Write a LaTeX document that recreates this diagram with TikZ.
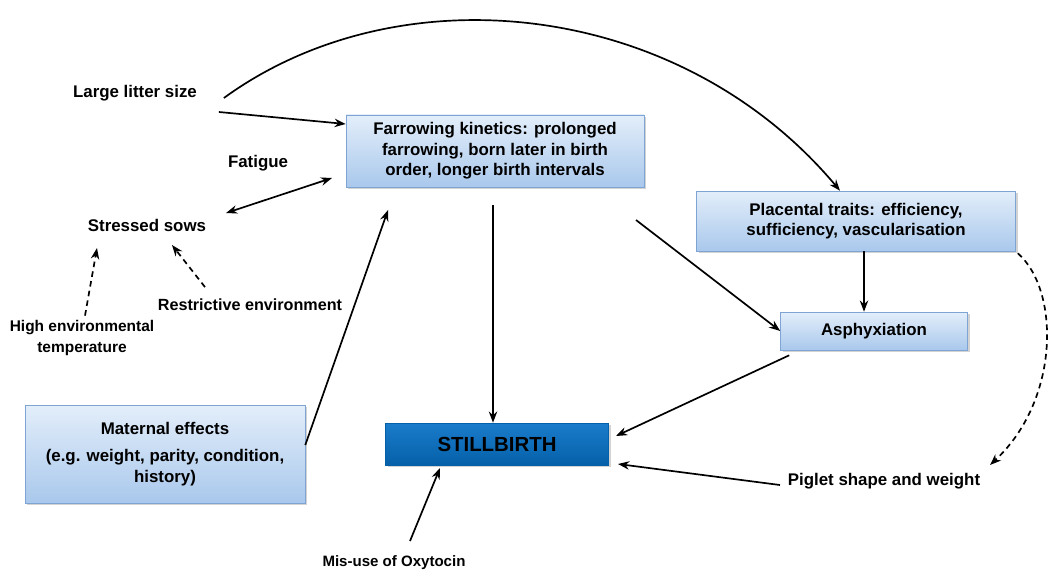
\documentclass[tikz,border=0pt]{standalone}
\usepackage{fontspec}
\setmainfont{Liberation Sans}
\usepackage{tikz}
\usetikzlibrary{arrows.meta, positioning, shadows}

\definecolor{boxtop}{HTML}{E3EEFA}
\definecolor{boxbottom}{HTML}{A9C8EC}
\definecolor{boxline}{HTML}{7EA4D4}
\definecolor{stilltop}{HTML}{1A7CCB}
\definecolor{stillbottom}{HTML}{0560A8}

\tikzset{
    bluebox/.style={draw=boxline, rectangle, align=center, top color=boxtop, bottom color=boxbottom, drop shadow={opacity=0.35, shadow xshift=0.6mm, shadow yshift=-0.6mm}, font=\fontsize{12}{14.5}\selectfont\bfseries},
    label/.style={align=center, font=\fontsize{12}{14}\selectfont\bfseries},
    link/.style={-{Stealth[length=2.8mm, width=2.1mm]}, line width=1.2pt},
    dashlink/.style={link, dash pattern=on 4pt off 3pt}
}

\begin{document}
\begin{tikzpicture}[x=0.025cm, y=-0.025cm, node distance=2cm]
    \useasboundingbox (0,0) rectangle (1056,577);

    % Boxes
    \node (farrowing) [bluebox, minimum width=298*0.025cm, minimum height=72*0.025cm] at (495,151) {Farrowing kinetics: prolonged\\ farrowing, born later in birth\\ order, longer birth intervals};
    \node (placental) [bluebox, minimum width=319*0.025cm, minimum height=60*0.025cm] at (856,221) {Placental traits: efficiency,\\ sufficiency, vascularisation};
    \node (asphyxiation) [bluebox, minimum width=187*0.025cm, minimum height=38*0.025cm] at (874,331) {Asphyxiation};
    \node (stillbirth) [bluebox, draw=stillbottom, top color=stilltop, bottom color=stillbottom, minimum width=223*0.025cm, minimum height=42*0.025cm, font=\fontsize{14.5}{16}\selectfont\bfseries] at (497,444) {STILLBIRTH};
    \node (maternal) [bluebox, minimum width=280*0.025cm, minimum height=98*0.025cm] at (165,454) {Maternal effects\\[5pt] (e.g. weight, parity, condition,\\ history)};

    % Free text labels
    \node (litter) [label] at (135,93) {Large litter size};
    \node (fatigue) [label] at (258,163) {Fatigue};
    \node (stressed) [label] at (147,225) {Stressed sows};
    \node (hightemp) [label, font=\fontsize{11}{14.5}\selectfont\bfseries] at (82,338) {High environmental\\ temperature};
    \node (restrictive) [label, font=\fontsize{11.5}{13}\selectfont\bfseries] at (250,305) {Restrictive environment};
    \node (oxytocin) [label, font=\fontsize{10.7}{13}\selectfont\bfseries] at (394,563) {Mis-use of Oxytocin};
    \node (piglet) [label] at (884,481) {Piglet shape and weight};

    % Arrows into farrowing kinetics
    \draw[link] (litter.east) ++(17,19) -- (farrowing.west |- 0,124);
    \draw[link, {Stealth[length=2.8mm, width=2.1mm]}-{Stealth[length=2.8mm, width=2.1mm]}] (stressed.east) ++(15,-12) -- (332,178);
    \draw[link] (maternal.east) ++(0,-9) -- (388,210);

    % Long curve from litter size to placental traits
    \draw[link] (litter.east) ++(22,5) .. controls (400,-30) and (680,0) .. (placental.north -| 840,0);

    % Dashed arrows into stressed sows
    \draw[dashlink] (hightemp.north) ++(3,0) -- (97,248);
    \draw[dashlink] (restrictive.north) ++(-45,-7) -- (172,245);

    % Arrows towards stillbirth and asphyxiation
    \draw[link] (493,205) -- (stillbirth.north -| 493,0);
    \draw[link] (636,220) -- (asphyxiation.west);
    \draw[link] (placental.south -| 864,0) -- (asphyxiation.north -| 864,0);
    \draw[link] (asphyxiation.south west) ++(9,5) -- (616,436);
    \draw[link] (piglet.west) ++(-3,4) -- (618,464);
    \draw[link] (oxytocin.north) ++(16,-10) -- (440,468);

    % Dashed curve from placental traits to piglet shape
    \draw[dashlink] (placental.south east) ++(2,2) .. controls (1060,290) and (1060,400) .. (990,465);

\end{tikzpicture}
\end{document}
